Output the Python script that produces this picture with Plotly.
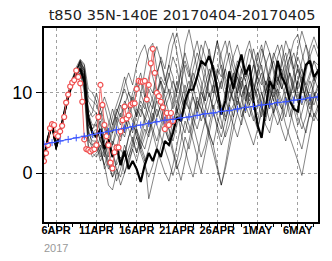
import pandas as pd
import plotly.graph_objects as go

# ---------------- data ----------------
title_text = "t850 35N-140E 20170404-20170405"
tick_dates = ["2017-04-06", "2017-04-11", "2017-04-16", "2017-04-21",
              "2017-04-26", "2017-05-01", "2017-05-06"]
tick_labels = ["6APR", "11APR", "16APR", "21APR", "26APR", "1MAY", "6MAY"]
year_label = "2017"

# ensemble time grid: 12-hourly from 2017-04-04 12Z
ens_start = "2017-04-04 12:00"
ens_step = "12h"

control = [2.0, 4.4, 6.1, 3.3, 5.1, 7.3, 9.8, 11.3, 12.4, 13.0, 11.5,
           7.0, 5.0, 4.5, 5.5, 3.0, 4.2, 2.0, 3.5, 1.0, 2.8, 0.5, 1.5,
           0.5, -1.1, 1.0, 2.5, 1.5, 3.0, 2.0, 4.0, 3.5, 5.0, 7.0, 6.5,
           9.0, 10.4, 10.4, 12.0, 14.0, 13.5, 14.6, 13.0, 10.6, 7.3, 9.0, 12.7,
           10.5, 13.0, 14.8, 12.3, 13.5, 9.0, 6.0, 4.4, 8.0, 11.5, 10.5, 14.0,
           12.0, 11.0, 9.0, 8.0, 7.7, 11.0, 13.5, 14.0, 12.0, 12.7]

members = [
    [2.1, 4.2, 5.8, 3.0, 4.9, 7.0, 9.4, 11.0, 12.6, 13.8, 12.0,
     6.0, 5.0, 5.0, 6.5, 4.0, 5.5, 3.5, 6.0, 7.5, 5.0, 8.0, 9.5,
     7.0, 10.0, 12.5, 15.5, 16.2, 13.0, 11.0, 8.5, 6.0, 9.0, 7.5, 10.5,
     16.0, 17.9, 15.5, 13.0, 11.5, 9.0, 12.0, 14.0, 16.5, 13.0, 10.5, 10.0,
     12.5, 9.5, 7.0, 8.5, 11.0, 13.5, 12.0, 10.0, 8.0, 9.5, 12.0, 14.5,
     16.0, 13.0, 10.5, 9.0, 11.5, 13.0, 10.0, 8.5, 11.0, 12.5],
    [1.9, 4.5, 6.2, 3.6, 5.3, 7.5, 9.9, 11.5, 12.8, 14.1, 13.0,
     7.0, 5.5, 6.0, 4.0, 3.0, 1.5, 2.5, 0.5, -0.5, 1.5, 3.0, 4.5,
     2.5, 5.0, 7.0, 6.0, 8.5, 10.5, 9.0, 7.5, 5.5, 3.0, 1.0, -0.9,
     1.5, 4.0, 6.5, 9.0, 8.0, 6.5, 8.5, 11.0, 13.0, 12.0, 14.5, 16.5,
     14.0, 12.0, 9.5, 7.5, 10.0, 8.5, 6.5, 9.0, 11.5, 10.0, 7.5, 9.5,
     12.0, 14.0, 15.5, 13.0, 10.0, 8.5, 10.5, 9.5, 7.0, 8.5],
    [2.0, 4.3, 6.0, 3.2, 5.0, 7.1, 9.5, 11.1, 12.0, 13.2, 12.5,
     8.0, 7.0, 7.5, 5.0, 6.0, 3.5, 2.0, 3.0, 1.0, 2.5, 4.5, 6.0,
     5.0, 3.5, 2.0, -3.2, -1.0, 1.5, 3.5, 5.5, 4.0, 6.5, 8.0, 6.5,
     5.0, 7.5, 9.5, 8.0, 10.5, 12.5, 15.5, 13.0, 10.0, 8.5, 7.0, 9.0,
     11.5, 10.0, 12.5, 15.0, 16.5, 14.0, 11.0, 8.5, 6.0, 5.0, 7.5, 9.0,
     8.0, 10.0, 12.5, 11.0, 9.0, 6.5, 5.0, 7.5, 9.5, 10.5],
    [2.2, 4.6, 6.3, 3.8, 5.5, 7.6, 10.0, 11.8, 13.0, 13.5, 11.0,
     4.0, 3.5, 3.0, 4.5, 2.0, 3.5, 5.0, 7.0, 6.0, 8.5, 10.0, 9.0,
     11.0, 12.5, 10.0, 8.0, 9.5, 12.0, 14.5, 13.0, 16.0, 17.5, 15.0, 12.0,
     10.0, 8.0, 6.0, 4.0, 2.0, 3.5, 6.0, 8.5, 7.0, 5.5, 8.0, 10.5,
     9.0, 11.0, 13.0, 11.5, 9.0, 10.5, 12.5, 14.0, 16.5, 15.0, 12.5, 11.0,
     13.5, 15.0, 12.0, 10.0, 11.5, 14.0, 16.0, 14.5, 12.0, 13.0],
    [1.8, 4.1, 5.9, 2.9, 4.8, 6.9, 9.2, 10.8, 11.8, 12.5, 10.5,
     3.5, 2.0, 2.5, 3.5, 0.5, 1.5, -0.5, 0.5, -1.5, 0.0, 2.0, 3.5,
     5.5, 4.0, 6.5, 8.0, 6.5, 9.5, 11.5, 10.0, 12.5, 10.5, 8.0, 5.0,
     3.0, 1.0, -0.5, 2.0, 4.5, 6.5, 5.0, 3.5, 1.0, -1.5, 0.5, 3.0,
     5.5, 7.5, 6.0, 8.5, 7.0, 9.0, 10.5, 8.5, 7.0, 9.0, 11.0, 10.0,
     8.5, 7.0, 9.5, 11.5, 13.0, 11.0, 9.0, 10.5, 12.0, 10.5],
    [2.0, 4.4, 6.1, 3.4, 5.2, 7.4, 9.8, 11.4, 12.6, 14.0, 12.8,
     9.5, 9.0, 8.5, 7.0, 8.5, 6.5, 5.0, 6.5, 4.5, 5.5, 7.0, 8.5,
     10.0, 11.5, 9.5, 12.0, 14.0, 15.8, 14.0, 11.5, 13.5, 16.0, 17.5, 15.0,
     12.5, 10.0, 11.5, 13.5, 16.0, 14.5, 12.0, 10.0, 12.5, 15.0, 16.5, 14.0,
     11.5, 13.0, 10.5, 9.0, 11.5, 13.5, 15.0, 13.0, 11.0, 12.5, 14.0, 12.0,
     10.5, 12.0, 14.5, 16.5, 17.3, 15.0, 13.0, 14.5, 16.0, 14.5],
    [2.1, 4.3, 6.0, 3.1, 5.0, 7.2, 9.6, 11.2, 12.3, 12.8, 10.0,
     3.0, 2.5, 2.0, 3.0, 1.0, 2.5, 4.0, 3.0, 5.5, 4.5, 6.5, 5.0,
     7.5, 9.0, 8.0, 10.5, 9.0, 7.0, 8.5, 6.0, 4.5, 2.5, 0.5, 2.0,
     4.5, 3.0, 5.5, 8.0, 10.0, 9.0, 11.5, 13.5, 12.0, 10.5, 13.0, 15.0,
     13.0, 11.0, 9.5, 11.0, 8.5, 7.0, 5.5, 7.5, 10.0, 12.0, 10.5, 8.0,
     6.5, 8.5, 10.0, 8.0, 6.0, 7.5, 9.5, 11.5, 10.0, 8.0],
    [1.9, 4.2, 6.1, 3.5, 5.1, 7.3, 9.7, 11.3, 12.5, 13.0, 12.2,
     6.5, 5.5, 6.5, 8.0, 9.5, 8.0, 6.0, 7.5, 9.0, 10.5, 9.0, 7.0,
     5.5, 3.0, 4.5, 6.5, 5.0, 3.0, 1.5, 0.0, -1.0, 1.0, 3.5, 6.0,
     8.5, 10.5, 13.0, 15.0, 13.5, 11.0, 9.5, 11.0, 9.0, 7.5, 10.0, 12.5,
     14.5, 16.0, 14.0, 12.0, 13.5, 11.0, 9.5, 8.0, 10.5, 13.0, 15.0, 13.5,
     11.0, 9.5, 7.0, 9.0, 11.5, 10.0, 12.5, 15.5, 17.0, 15.5],
    [2.0, 4.4, 6.2, 3.6, 5.2, 7.3, 9.5, 11.0, 12.2, 13.4, 12.8,
     5.5, 3.5, 4.0, 2.0, 3.0, 1.0, -0.5, 1.5, 3.0, 2.0, 4.5, 6.0,
     8.0, 7.0, 9.5, 11.0, 10.0, 12.5, 14.0, 12.0, 10.0, 8.0, 10.5, 13.0,
     15.0, 13.0, 11.0, 8.5, 6.5, 8.0, 10.0, 8.0, 5.5, 3.5, 5.0, 7.5,
     6.0, 4.5, 6.5, 9.0, 11.5, 10.0, 13.0, 15.5, 14.0, 11.5, 9.5, 10.5,
     12.5, 11.0, 13.5, 15.0, 13.0, 11.5, 9.0, 7.0, 9.5, 11.0],
    [2.1, 4.4, 6.0, 3.2, 5.0, 7.1, 9.6, 11.3, 12.7, 14.0, 13.5,
     9.0, 8.0, 7.5, 6.0, 4.5, 6.0, 8.0, 6.5, 8.5, 7.0, 5.5, 4.0,
     2.5, 4.0, 3.0, 5.0, 7.5, 6.0, 4.5, 3.0, 1.5, -0.3, 1.5, 4.0,
     6.5, 5.0, 7.0, 9.5, 8.0, 6.5, 4.5, 2.5, 0.5, -1.5, 1.0, 4.0,
     7.0, 9.0, 8.0, 10.5, 12.5, 11.0, 9.0, 7.0, 8.5, 10.5, 9.0, 7.5,
     5.5, 4.0, 6.0, 8.5, 7.0, 5.5, 7.0, 9.5, 8.5, 10.0],
    [2.0, 4.5, 6.2, 3.7, 5.3, 7.4, 9.9, 11.6, 13.2, 14.2, 13.6,
     10.5, 10.0, 9.0, 7.0, 5.5, 4.0, 5.5, 7.5, 9.0, 11.0, 12.5, 11.0,
     13.5, 15.0, 16.0, 14.0, 12.0, 10.0, 11.5, 9.5, 7.5, 6.0, 8.5, 11.0,
     13.5, 12.0, 14.5, 16.5, 14.0, 12.5, 10.0, 8.0, 9.5, 11.5, 13.0, 11.0,
     9.0, 7.5, 9.0, 11.0, 9.5, 12.0, 14.5, 16.0, 13.5, 11.0, 9.0, 11.5,
     14.0, 16.5, 15.0, 13.0, 15.5, 17.7, 16.0, 13.5, 11.5, 13.0],
    [1.9, 4.3, 6.0, 3.0, 5.0, 7.2, 9.6, 11.2, 12.4, 13.6, 12.0,
     5.0, 4.5, 4.5, 3.0, 4.0, 2.0, 3.5, 5.0, 4.0, 6.0, 7.5, 6.5,
     4.5, 3.0, 1.5, 3.0, 5.0, 7.0, 8.5, 10.5, 12.0, 14.5, 13.0, 10.5,
     8.0, 10.0, 12.5, 11.0, 9.0, 7.0, 5.0, 3.5, 6.0, 8.0, 6.5, 8.5,
     10.5, 12.0, 10.5, 13.0, 15.5, 14.0, 12.0, 13.5, 11.0, 9.0, 7.5, 6.0,
     7.5, 9.5, 8.0, 6.0, 4.5, 3.0, 5.5, 7.5, 6.5, 8.0],
    [2.0, 4.2, 5.9, 2.9, 4.9, 7.0, 9.4, 11.0, 12.1, 12.9, 11.8,
     6.0, 5.0, 5.5, 4.0, 2.5, 4.0, 2.5, 1.0, 2.0, 0.0, 1.5, 3.0,
     1.5, 3.5, 5.5, 4.5, 6.5, 8.0, 6.5, 9.0, 10.5, 9.0, 11.5, 9.5,
     7.5, 6.0, 4.0, 2.0, 0.0, 2.5, 5.0, 7.5, 6.0, 4.5, 6.5, 8.5,
     7.0, 9.5, 8.0, 6.5, 5.0, 3.5, 5.5, 8.0, 6.5, 9.0, 11.0, 9.5,
     8.0, 6.0, 4.5, 3.0, 1.5, -0.3, 2.5, 5.0, 7.5, 6.5],
    [2.0, 4.4, 6.1, 3.4, 5.1, 7.3, 9.7, 11.4, 12.9, 13.8, 13.0,
     7.5, 6.0, 6.0, 7.5, 6.0, 4.5, 6.0, 8.0, 7.0, 9.0, 8.0, 10.0,
     11.5, 10.0, 8.5, 7.0, 5.5, 4.0, 6.0, 8.0, 9.5, 11.5, 10.0, 12.5,
     14.0, 12.5, 10.5, 12.0, 14.0, 16.5, 15.0, 12.5, 10.0, 11.5, 9.5, 7.5,
     8.5, 10.5, 12.0, 10.0, 8.5, 10.0, 12.0, 11.0, 13.5, 15.0, 13.0, 11.5,
     13.0, 11.5, 9.5, 11.0, 13.5, 12.0, 10.5, 12.0, 14.0, 12.5],
    [2.1, 4.3, 6.0, 3.1, 5.1, 7.2, 9.5, 11.1, 12.3, 13.1, 11.0,
     4.5, 3.0, 3.5, 1.5, 2.5, 0.5, 1.5, -1.0, 0.5, 2.5, 1.0, 3.0,
     4.5, 2.5, 1.0, -0.5, 1.0, 3.0, 5.5, 7.0, 5.5, 4.0, 6.0, 8.0,
     10.0, 11.5, 9.5, 7.5, 9.0, 11.0, 13.0, 11.5, 9.0, 6.5, 4.5, 6.0,
     8.0, 10.0, 11.5, 9.5, 8.0, 6.5, 8.5, 10.0, 8.5, 6.5, 8.0, 10.5,
     9.0, 11.0, 12.5, 10.5, 9.0, 11.0, 9.5, 8.0, 10.0, 9.0],
    [2.0, 4.5, 6.2, 3.5, 5.2, 7.4, 9.8, 11.5, 12.9, 13.9, 12.5,
     7.0, 7.5, 10.0, 8.0, 6.5, 5.0, 7.0, 8.5, 10.0, 12.0, 10.0, 8.5,
     7.0, 8.5, 6.5, 5.0, 7.0, 9.0, 7.5, 5.5, 4.0, 5.5, 7.5, 9.0,
     11.0, 9.0, 7.0, 5.5, 7.5, 10.0, 12.0, 14.0, 16.5, 14.5, 12.0, 10.5,
     12.0, 14.0, 13.0, 11.5, 13.5, 15.5, 13.5, 11.5, 10.0, 12.0, 14.5, 16.0,
     14.0, 12.0, 10.0, 12.5, 14.5, 13.0, 11.0, 12.5, 14.0, 13.5],
    [1.9, 4.2, 5.8, 3.0, 4.8, 6.9, 9.3, 10.9, 11.9, 12.6, 11.5,
     5.0, 4.0, 4.0, 2.5, 1.0, -1.5, -2.1, 0.0, 1.5, 3.5, 2.0, 4.0,
     6.0, 8.0, 7.0, 9.0, 8.0, 10.0, 12.0, 11.0, 13.5, 12.0, 9.5, 7.0,
     9.0, 8.0, 10.0, 12.0, 10.5, 8.5, 7.0, 9.5, 12.0, 13.5, 11.5, 9.0,
     10.5, 8.5, 11.0, 13.0, 11.5, 9.5, 11.0, 12.5, 10.0, 8.0, 10.0, 12.0,
     10.5, 13.0, 14.5, 12.5, 10.5, 12.0, 11.0, 9.0, 11.5, 13.0],
]

# observed (analysis) series: 6-hourly from 2017-04-04 12Z
obs_start = "2017-04-04 12:00"
obs_step = "6h"
obs = [1.5, 2.5, 3.5, 5.6, 6.1, 6.0, 4.8, 4.6, 5.2, 5.9, 7.0,
       8.8, 9.8, 10.8, 11.3, 11.6, 12.8, 12.0, 11.2, 8.9, 4.2,
       3.0, 2.9, 2.7, 2.9, 3.0, 3.5, 7.0, 11.0, 8.5, 6.0,
       4.6, 3.5, 1.3, 0.6, 2.6, 3.2, 3.2, 5.2, 6.6, 8.3,
       6.8, 7.2, 8.5, 8.7, 8.7, 10.5, 11.5, 11.4, 11.4, 11.5,
       9.2, 11.0, 13.7, 15.5, 12.5, 10.0, 9.6, 8.9, 8.2, 5.5,
       7.5, 6.0, 7.5, 6.5]

# climatology: daily from 2017-04-04 12Z
clim_start = "2017-04-04 12:00"
clim_step = "1D"
clim = [3.6, 3.8, 4.0, 4.2, 4.4, 4.6, 4.8, 5.0, 5.2, 5.4, 5.6, 5.8,
        6.0, 6.2, 6.4, 6.6, 6.7, 6.9, 7.0, 7.2, 7.4, 7.5, 7.7, 7.8,
        8.0, 8.2, 8.3, 8.5, 8.6, 8.8, 8.9, 9.1, 9.2, 9.4, 9.5]

# ---------------- figure ----------------
t_ens = pd.date_range(ens_start, periods=len(control), freq=ens_step)
t_obs = pd.date_range(obs_start, periods=len(obs), freq=obs_step)
t_clim = pd.date_range(clim_start, periods=len(clim), freq=clim_step)

fig = go.Figure()
for m in members:
    fig.add_trace(go.Scatter(x=t_ens[:len(m)], y=m, mode="lines",
                             line=dict(color="rgba(0,0,0,0.6)", width=0.8),
                             hoverinfo="skip", showlegend=False))
fig.add_trace(go.Scatter(x=t_ens, y=control, mode="lines",
                         line=dict(color="black", width=2.2),
                         showlegend=False))
fig.add_trace(go.Scatter(x=t_obs, y=obs, mode="lines+markers",
                         line=dict(color="#f26a6a", width=1),
                         marker=dict(symbol="circle", size=5, color="white",
                                     line=dict(color="#f05050", width=1.2)),
                         showlegend=False))
fig.add_trace(go.Scatter(x=t_clim, y=clim, mode="lines+markers",
                         line=dict(color="#3a55ff", width=1),
                         marker=dict(symbol="cross-thin", size=5,
                                     line=dict(color="#3a55ff", width=1)),
                         showlegend=False))

minor_days = [d for d in pd.date_range("2017-04-05", "2017-05-08", freq="1D")]

fig.update_layout(
    width=332, height=261,
    margin=dict(l=41, r=13, t=28, b=39),
    paper_bgcolor="white", plot_bgcolor="white",
    title=dict(text=title_text, x=0.504, xref="paper", xanchor="center",
               y=1 - 14.5 / 261, yref="container", yanchor="middle",
               font=dict(family="DejaVu Sans", size=14.5, color="#222")),
    showlegend=False,
)
fig.update_xaxes(
    type="date",
    range=["2017-04-04 12:00", "2017-05-08 12:00"],
    tickmode="array", tickvals=tick_dates, ticktext=tick_labels,
    ticks="outside", ticklen=6, tickwidth=1, tickcolor="black",
    ticklabelstandoff=-9,
    tickfont=dict(family="Liberation Sans", size=11, color="black", weight="bold"),
    showgrid=True, gridcolor="#a0a0a0", griddash="dot", gridwidth=1,
    showline=True, linewidth=2, linecolor="black", mirror=True,
    zeroline=False,
    minor=dict(tickmode="array", tickvals=minor_days, ticks="outside",
               ticklen=3, tickcolor="black", showgrid=False),
)
fig.update_yaxes(
    range=[-6.1, 18.1],
    tickmode="array", tickvals=[0, 10], ticktext=["0", "10"],
    ticks="outside", ticklen=6, tickwidth=1, tickcolor="black",
    tickfont=dict(family="Liberation Sans", size=18, color="black"),
    showgrid=True, gridcolor="#a0a0a0", griddash="dot", gridwidth=1,
    showline=True, linewidth=2, linecolor="black", mirror=True,
    zeroline=False,
)
fig.add_annotation(text=year_label, x=tick_dates[0], xref="x",
                   y=-(247.5 - 222) / 194, yref="paper",
                   xanchor="center", yanchor="middle", showarrow=False,
                   font=dict(family="Liberation Sans", size=11, color="#999"))

fig.write_html("out.html")
